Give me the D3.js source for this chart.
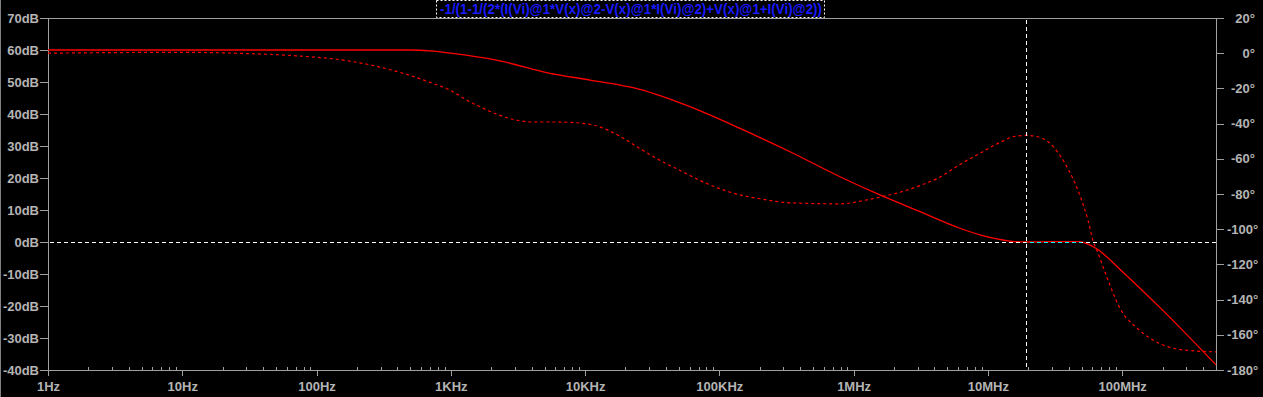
<!DOCTYPE html>
<html>
<head>
<meta charset="utf-8">
<script src="https://cdn.jsdelivr.net/npm/d3@7"></script>
<style>
  body { margin: 0; background: #000; }
  svg { display: block; }
  .lbl { font-family: "Liberation Sans", Arial, sans-serif; font-size: 13px; font-weight: bold; fill: #b4b4b4; }
</style>
</head>
<body>
<svg id="chart"></svg>
<script>
// DATA
var titleText = "-1/(1-1/(2*(I(Vi)@1*V(x)@2-V(x)@1*I(Vi)@2)+V(x)@1+I(Vi)@2))";

var magFreq = [1, 100, 500, 700, 1000, 2320, 5480, 10900, 25600, 60400, 142500, 336000, 792000,
  1.57e6, 3.12e6, 6.2e6, 8.74e6, 14.6e6, 19.2e6, 30e6, 48.5e6, 55e6, 65e6, 100e6, 200e6, 500e6];
var magDb = [60, 60, 60, 59.7, 59, 56.6, 52.7, 50.6, 47.7, 42.3, 35.5, 28.2, 20.4,
  14.7, 9.5, 4.3, 2.2, 0.3, 0, 0.1, 0.1, -0.6, -2.2, -9.2, -21.3, -38.4];

var phaseFreq = [1, 10, 30, 75, 177, 419, 737, 986, 1320, 1740, 2320, 3110, 4100, 6180, 9170, 12300,
  18200, 25600, 36100, 50900, 71800, 101000, 142500, 201000, 336000, 792000, 1.26e6, 1.57e6, 2.21e6,
  3.12e6, 4.4e6, 6.2e6, 8.74e6, 12.3e6, 16e6, 19.5e6, 23e6, 29e6, 37.5e6, 48.5e6, 55.7e6, 60.7e6,
  65e6, 78.5e6, 96.4e6, 131e6, 191e6, 284e6, 500e6];
var phaseDeg = [0, 0.5, -0.2, -1.6, -4.5, -10.9, -17.2, -21, -26.7, -31.3, -35.3, -38.1, -39.1, -39.1, -39.7, -41.4,
  -47.2, -54.2, -60.9, -66.6, -72.3, -77, -80.5, -82.7, -85, -85.6, -83.3, -81.8, -79,
  -75.2, -70.4, -63.2, -56.8, -50.7, -47.2, -46.7, -47.3, -51.2, -62.6, -80.9, -95, -106.5,
  -112.2, -129, -145, -156.6, -165, -168.6, -169.7];

var freqTicks = [1, 10, 100, 1e3, 1e4, 1e5, 1e6, 1e7, 1e8];
var freqLabels = ["1Hz", "10Hz", "100Hz", "1KHz", "10KHz", "100KHz", "1MHz", "10MHz", "100MHz"];
var dbTicks = [70, 60, 50, 40, 30, 20, 10, 0, -10, -20, -30, -40];
var degTicks = [20, 0, -20, -40, -60, -80, -100, -120, -140, -160, -180];

var cursorFreq = 19.2e6;
var cursorDb = 0;

// SIZING
var W = 1263, H = 397;
var plotL = 48, plotR = 1216, plotT = 18, plotB = 370;

var svg = d3.select("#chart").attr("width", W).attr("height", H);

svg.append("rect").attr("width", W).attr("height", H).attr("fill", "#000");
svg.append("line").attr("x1", 0.5).attr("x2", 0.5).attr("y1", 0).attr("y2", H)
  .attr("stroke", "#808080");

// SCALES
var x = d3.scaleLog().domain([1, 500e6]).range([plotL, plotR]);
var yDb = d3.scaleLinear().domain([-40, 70]).range([plotB, plotT]);
var yDeg = d3.scaleLinear().domain([-180, 20]).range([plotB, plotT]);

// PLOT FRAME
svg.append("rect").attr("x", plotL + 0.5).attr("y", plotT + 0.5)
  .attr("width", plotR - plotL).attr("height", plotB - plotT)
  .attr("stroke", "#a0a0a0").attr("fill", "none");

function styleAxis(g) {
  g.select(".domain").remove();
  g.selectAll("line").attr("stroke", "#a0a0a0").attr("shape-rendering", "crispEdges");
  g.selectAll("text").attr("class", "lbl").attr("fill", null);
}

// LEFT AXIS
svg.append("g")
  .attr("transform", "translate(" + plotL + ",0)")
  .call(d3.axisLeft(yDb).tickValues(dbTicks).tickSize(8).tickPadding(1).tickFormat(function(d) { return d + "dB"; }))
  .call(styleAxis);

// RIGHT AXIS
svg.append("g")
  .attr("transform", "translate(" + plotR + ",0)")
  .call(d3.axisRight(yDeg).tickValues(degTicks).tickSize(8).tickFormat(function(d) { return d + "\u00b0"; }))
  .call(styleAxis)
  .call(function(g) {
    g.selectAll("text")
      .attr("x", function(d) { return Math.abs(d) >= 100 ? 11 : 39; })
      .style("text-anchor", function(d) { return Math.abs(d) >= 100 ? "start" : "end"; });
  });

// BOTTOM AXIS: MAJOR TICKS DOWN, MINOR TICKS UP
var minor = [];
freqTicks.forEach(function(f) {
  for (var k = 2; k <= 9; k++) { if (f * k <= 500e6) minor.push(f * k); }
});
svg.append("g").selectAll("line.minor").data(minor).enter().append("line")
  .attr("x1", function(d) { return Math.round(x(d)) + 0.5; })
  .attr("x2", function(d) { return Math.round(x(d)) + 0.5; })
  .attr("y1", plotB - 3).attr("y2", plotB)
  .attr("stroke", "#a0a0a0");

svg.append("g")
  .attr("transform", "translate(0," + plotB + ")")
  .call(d3.axisBottom(x).tickValues(freqTicks).tickSize(6).tickPadding(6)
    .tickFormat(function(d, i) { return freqLabels[i]; }))
  .call(styleAxis);

// CURVES
var magData = magFreq.map(function(f, i) { return [f, magDb[i]]; });
var phaseData = phaseFreq.map(function(f, i) { return [f, phaseDeg[i]]; });

var magLine = d3.line().x(function(d) { return x(d[0]); }).y(function(d) { return yDb(d[1]); }).curve(d3.curveMonotoneX);
var phaseLine = d3.line().x(function(d) { return x(d[0]); }).y(function(d) { return yDeg(d[1]); }).curve(d3.curveMonotoneX);

svg.append("path").datum(phaseData).attr("d", phaseLine)
  .attr("fill", "none").attr("stroke", "#ff0000").attr("stroke-width", 1.2).attr("stroke-dasharray", "3,3");
svg.append("path").datum(magData).attr("d", magLine)
  .attr("fill", "none").attr("stroke", "#ff0000").attr("stroke-width", 1.3);

// CURSOR CROSSHAIR
var cx = Math.round(x(cursorFreq)) + 0.5;
var cy = Math.round(yDb(cursorDb)) + 0.5;
svg.append("line").attr("x1", cx).attr("x2", cx).attr("y1", plotT + 2).attr("y2", plotB)
  .attr("stroke", "#fff").attr("stroke-dasharray", "4,3");
svg.append("line").attr("x1", plotL + 2).attr("x2", plotR).attr("y1", cy).attr("y2", cy)
  .attr("stroke", "#fff").attr("stroke-dasharray", "4,3");

// XOR LOOK WHERE THE CURSOR SITS ON THE TRACE
svg.append("clipPath").attr("id", "cyanclip").append("rect")
  .attr("x", cx).attr("y", cy - 2).attr("width", x(50e6) - cx).attr("height", 4);
svg.append("line").attr("x1", plotL + 2).attr("x2", plotR).attr("y1", cy).attr("y2", cy)
  .attr("stroke", "#00ffff").attr("stroke-dasharray", "4,3").attr("clip-path", "url(#cyanclip)");

// TITLE BOX
var tg = svg.append("g");
tg.append("rect").attr("x", 436.5).attr("y", 0.5).attr("width", 388).attr("height", 17)
  .attr("fill", "#000").attr("stroke", "#fff").attr("stroke-dasharray", "2,2");
tg.append("text").attr("x", 440).attr("y", 14)
  .attr("textLength", 382).attr("lengthAdjust", "spacingAndGlyphs")
  .style("font-family", "'Liberation Sans Narrow', 'Liberation Sans', Arial, sans-serif")
  .style("font-size", "15px").style("font-weight", "bold")
  .attr("fill", "#1a1aff")
  .text(titleText);
</script>
</body>
</html>
